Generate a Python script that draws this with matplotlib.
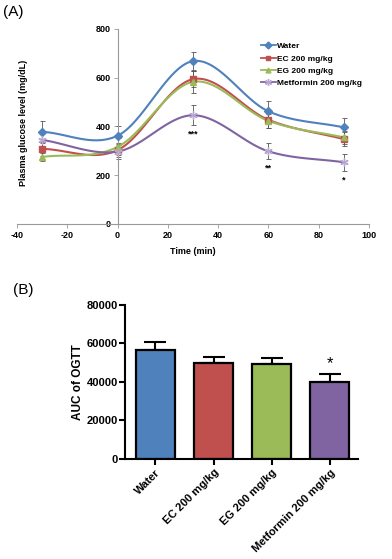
import numpy as np
import matplotlib
matplotlib.use("Agg")
import matplotlib.pyplot as plt

plt.rcParams['font.family'] = ['Liberation Sans', 'DejaVu Sans']
plt.rcParams['axes.unicode_minus'] = False

# --- OGTT time course (A)
time = [-30, 0, 30, 60, 90]
groups = ["Water", "EC 200 mg/kg", "EG 200 mg/kg", "Metformin 200 mg/kg"]
water = [378, 362, 668, 462, 396]
water_err = [45, 40, 38, 43, 37]
ec = [308, 303, 594, 427, 348]
ec_err = [30, 30, 32, 32, 30]
eg = [275, 316, 583, 423, 355]
eg_err = [18, 35, 45, 30, 28]
metf = [345, 297, 446, 298, 253]
metf_err = [30, 30, 42, 33, 35]
stars = {30: "***", 60: "**", 90: "*"}

# --- AUC (B)
auc = [56500, 49800, 49500, 40200]
auc_err = [4300, 3300, 3000, 4100]

colors = ["#4F81BD", "#C0504D", "#9BBB59", "#8064A2"]
mk_colors = ["#4F81BD", "#C0504D", "#9BBB59", "#B8A8D0"]
markers = ["D", "s", "^", (6, 2, 0)]


def smooth(x, y, n=30):
    # catmull-rom through the points, like excel's smoothed line
    x = np.asarray(x, float)
    y = np.asarray(y, float)
    px = np.concatenate([[2 * x[0] - x[1]], x, [2 * x[-1] - x[-2]]])
    py = np.concatenate([[2 * y[0] - y[1]], y, [2 * y[-1] - y[-2]]])
    xs, ys = [], []
    for i in range(1, len(px) - 2):
        t = np.linspace(0, 1, n)
        for arr, out in ((px, xs), (py, ys)):
            p0, p1, p2, p3 = arr[i - 1], arr[i], arr[i + 1], arr[i + 2]
            out.extend(0.5 * (2 * p1 + (-p0 + p2) * t
                              + (2 * p0 - 5 * p1 + 4 * p2 - p3) * t ** 2
                              + (-p0 + 3 * p1 - 3 * p2 + p3) * t ** 3))
    return xs, ys


fig = plt.figure(figsize=(3.92, 5.59), dpi=100)

ax = fig.add_axes([0.0434, 0.5993, 0.898, 0.349])
series = [(water, water_err), (ec, ec_err), (eg, eg_err), (metf, metf_err)]
for i, (vals, errs) in enumerate(series):
    ax.errorbar(time, vals, yerr=errs, fmt="none", ecolor="#555555",
                elinewidth=0.6, capsize=1.8, capthick=0.6, zorder=2)
for i, (vals, errs) in enumerate(series):
    sx, sy = smooth(time, vals)
    ax.plot(sx, sy, color=colors[i], lw=1.5, zorder=3)
    ax.plot(time, vals, ls="none", marker=markers[i], ms=4 if i < 3 else 6,
            color=mk_colors[i], mec=mk_colors[i], mew=1, zorder=4)
    ax.plot([], [], color=colors[i], lw=1.3, marker=markers[i],
            ms=3.5 if i < 3 else 5, mec=mk_colors[i], mfc=mk_colors[i],
            label=groups[i])
for t, s in stars.items():
    v = metf[time.index(t)] - metf_err[time.index(t)] - 18
    ax.text(t, v, s, ha="center", va="top", fontsize=6.5, fontweight="bold")

ax.set_xlim(-40, 100)
ax.set_ylim(0, 800)
ax.set_xticks(range(-40, 101, 20))
ax.set_yticks(range(0, 801, 200))
ax.spines["left"].set_position(("data", 0))
ax.spines["top"].set_visible(False)
ax.spines["right"].set_visible(False)
for s in ("left", "bottom"):
    ax.spines[s].set_color("#999999")
    ax.spines[s].set_linewidth(0.8)
ax.tick_params(axis="both", labelsize=6.5, length=3, width=0.6, color="#999999", pad=2)
for lab in ax.get_xticklabels() + ax.get_yticklabels():
    lab.set_fontweight("bold")
ax.set_xlabel("Time (min)", fontsize=6.5, fontweight="bold", labelpad=5)
ax.set_ylabel("Plasma glucose level (mg/dL)", fontsize=6.5, fontweight="bold")
ax.yaxis.set_label_coords(0.03, 0.52)
leg = ax.legend(loc="upper right", bbox_to_anchor=(1.0, 0.97), frameon=False,
                prop={"size": 6, "weight": "bold"}, handlelength=1.8,
                handletextpad=0.1, labelspacing=0.55)

fig.text(0.008, 0.978, "(A)", fontsize=11, va="center", ha="left")
fig.text(0.033, 0.481, "(B)", fontsize=11, va="center", ha="left")

# bar chart
bx = fig.add_axes([0.319, 0.179, 0.594, 0.2755])
pos = np.arange(len(groups))
bx.bar(pos, auc, width=0.67, color=colors, edgecolor="black", linewidth=1.6, zorder=2)
bx.errorbar(pos, auc, yerr=[np.zeros(len(auc)), auc_err], fmt="none", ecolor="black",
            elinewidth=1.5, capsize=8, capthick=1.5, zorder=1)
bx.text(pos[3], auc[3] + auc_err[3] + 1500, "*", ha="center", va="bottom", fontsize=12)
bx.set_xlim(-0.52, 3.48)
bx.set_ylim(0, 80000)
bx.set_yticks(range(0, 80001, 20000))
bx.set_xticks(pos)
bx.set_xticklabels(groups, rotation=45, ha="right", rotation_mode="anchor",
                   fontsize=8, fontweight="bold")
for lab in bx.get_yticklabels():
    lab.set_fontweight("bold")
bx.tick_params(axis="y", labelsize=8, length=4, width=1.5, pad=1)
bx.tick_params(axis="x", length=4, width=1.5, pad=2)
bx.spines["top"].set_visible(False)
bx.spines["right"].set_visible(False)
bx.spines["left"].set_linewidth(1.5)
bx.spines["bottom"].set_linewidth(1.5)
bx.set_ylabel("AUC of OGTT", fontsize=8.5, fontweight="bold", labelpad=2)

fig.savefig("out.png", dpi=100)
